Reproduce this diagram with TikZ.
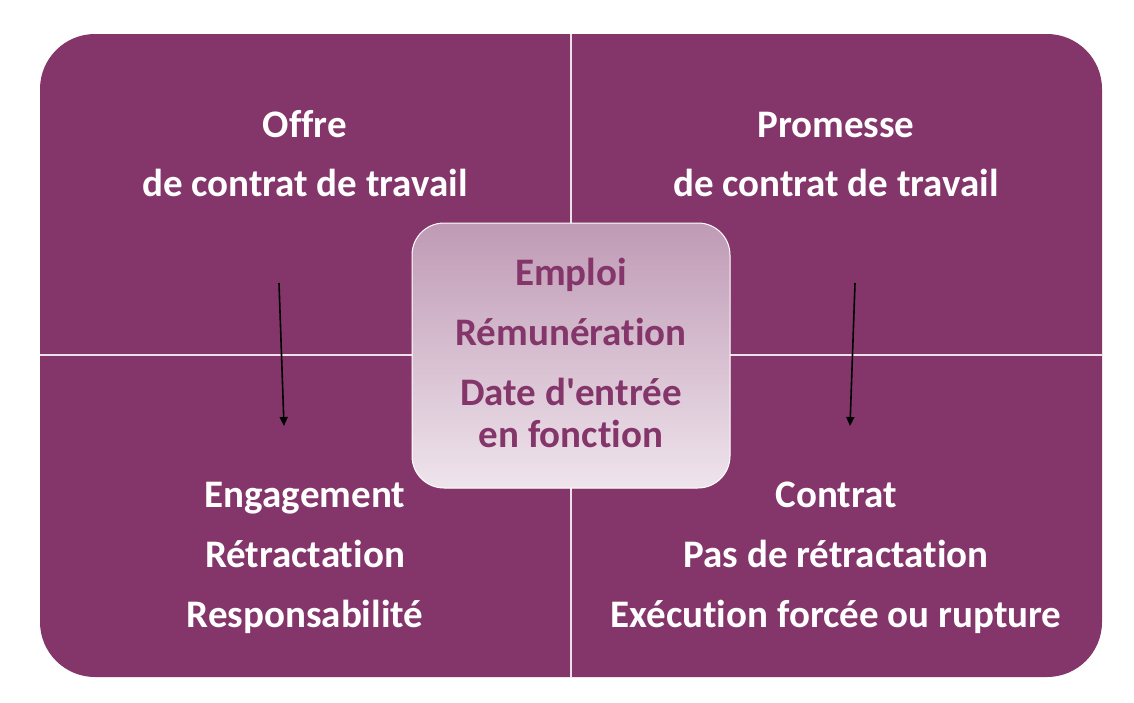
\documentclass[tikz,border=0pt]{standalone}
\usepackage{fontspec}
\setmainfont{Carlito}[Ligatures={TeXOff,NoCommon}]
\usetikzlibrary{arrows.meta}
\definecolor{plum}{HTML}{84366B}
\definecolor{gtop}{HTML}{BF9AB5}
\definecolor{gbot}{HTML}{EFE4EC}
\tikzset{
  lbl/.style={text=white,font=\bfseries\fontsize{39}{46}\selectfont,anchor=base,inner sep=0pt},
  clbl/.style={text=plum,font=\bfseries\fontsize{39}{46}\selectfont,anchor=base,inner sep=0pt},
  arr/.style={draw=black,line width=1.6pt,-{Triangle[length=9pt,width=8pt]}},
  divider/.style={draw=white!85!plum,line width=1.2pt}
}
\begin{document}
\begin{tikzpicture}[x=1pt,y=-1pt]
\useasboundingbox (0,0) rectangle (1134,702);
\fill[white] (0,0) rectangle (1134,702);
\fill[plum,rounded corners=55pt] (40,34) rectangle (1102,677);
\draw[divider] (571,34) -- (571,677);
\draw[divider] (40,355) -- (1102,355);
\node[draw=white,line width=1pt,rounded corners=32pt,minimum width=318pt,minimum height=265pt,top color=gtop,bottom color=gbot] (center) at (571,355.5) {};
% arrows
\coordinate (a1s) at (279,283);
\coordinate (a1e) at (284,426);
\coordinate (a2s) at (855,283);
\coordinate (a2e) at (850,426);
\draw[arr] (a1s) -- (a1e);
\draw[arr] (a2s) -- (a2e);
% top-left
\node[lbl] (tl1) at (305,137) {Offre};
\node[lbl] (tl2) at (305,196) {de contrat de travail};
% top-right
\node[lbl] (tr1) at (836,137) {Promesse};
\node[lbl] (tr2) at (836,196) {de contrat de travail};
% center
\node[clbl] (c1) at (571,285) {Emploi};
\node[clbl] (c2) at (571,345) {Rémunération};
\node[clbl] (c3) at (571,405) {Date d'entrée};
\node[clbl] (c4) at (571,447) {en fonction};
% bottom-left
\node[lbl] (bl1) at (305,507) {Engagement};
\node[lbl] (bl2) at (305,567) {Rétractation};
\node[lbl] (bl3) at (305,627) {Responsabilité};
% bottom-right
\node[lbl] (br1) at (836,507) {Contrat};
\node[lbl] (br2) at (836,567) {Pas de rétractation};
\node[lbl] (br3) at (836,627) {Exécution forcée ou rupture};
\end{tikzpicture}
\end{document}
